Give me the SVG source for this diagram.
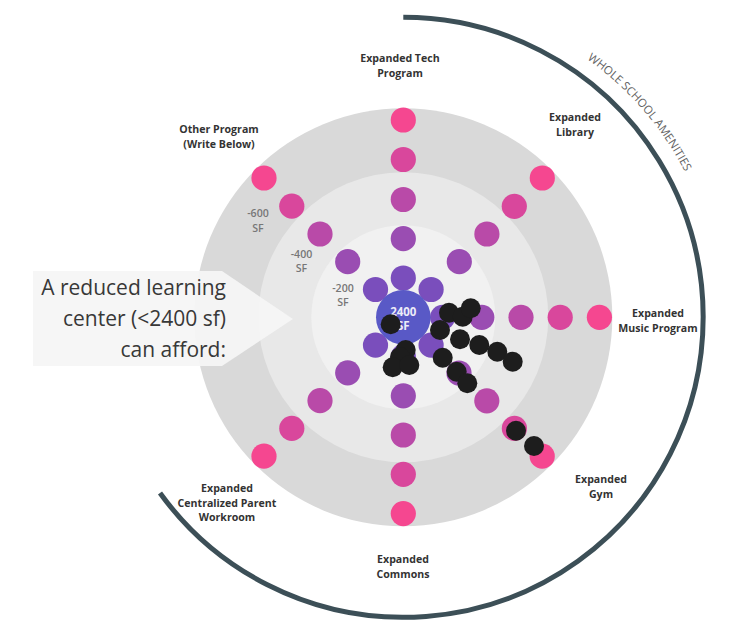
<svg xmlns="http://www.w3.org/2000/svg" width="729" height="623" viewBox="0 0 729 623">
<defs>
<style>
.lbl{font-family:"Open Sans","Noto Sans","Liberation Sans",sans-serif;font-weight:700;font-size:10.6px;fill:#333;text-anchor:middle}
.sf{font-family:"Open Sans","Noto Sans","Liberation Sans",sans-serif;font-weight:600;font-size:10.6px;fill:#777;text-anchor:middle}
.call{font-family:"Open Sans","Noto Sans","Liberation Sans",sans-serif;font-weight:400;font-size:21px;fill:#383838;text-anchor:end}
.arc{font-family:"Open Sans","Noto Sans","Liberation Sans",sans-serif;font-size:11.5px;fill:#626262}
.d1{fill:#7a4ebc}.d2{fill:#9a4db2}.d3{fill:#b94aa8}.d4{fill:#d9479c}.d5{fill:#f54790}
.blk{fill:#1d1d1d}
</style>
<path id="arcText" d="M403.3,0.3 A317,317 0 0 1 720.3,317.3"/>
</defs>
<rect width="729" height="623" fill="#ffffff"/>
<g id="rings">
<circle cx="403.3" cy="317.3" r="209" fill="#d9d9d9"/>
<circle cx="403.3" cy="317.3" r="145" fill="#e8e8e8"/>
<circle cx="403.3" cy="317.3" r="92" fill="#f1f1f1"/>
</g>
<g id="callout">
<polygon points="33,271 222,271 293,319 222,366 33,366" fill="#f5f5f5" opacity="0.93"/>
<text class="call" x="226" y="295">A reduced learning</text>
<text class="call" x="226" y="326">center (&lt;2400 sf)</text>
<text class="call" x="226" y="357">can afford:</text>
</g>
<g id="spoke-n">
<circle class="d1" cx="403.3" cy="278" r="12.6"/>
<circle class="d2" cx="403.3" cy="238.7" r="12.6"/>
<circle class="d3" cx="403.3" cy="199.5" r="12.6"/>
<circle class="d4" cx="403.3" cy="159.5" r="12.6"/>
<circle class="d5" cx="403.3" cy="120" r="12.6"/>
</g>
<g id="spoke-ne">
<circle class="d1" cx="431.1" cy="289.5" r="12.6"/>
<circle class="d2" cx="459.3" cy="261.7" r="12.6"/>
<circle class="d3" cx="486.9" cy="234" r="12.6"/>
<circle class="d4" cx="514.3" cy="206.3" r="12.6"/>
<circle class="d5" cx="542.3" cy="178" r="12.6"/>
</g>
<g id="spoke-e">
<circle class="d1" cx="442.6" cy="317.3" r="12.6"/>
<circle class="d2" cx="481.8" cy="317.3" r="12.6"/>
<circle class="d3" cx="521" cy="317.3" r="12.6"/>
<circle class="d4" cx="560.2" cy="317.3" r="12.6"/>
<circle class="d5" cx="599.4" cy="317.3" r="12.6"/>
</g>
<g id="spoke-se">
<circle class="d1" cx="431.1" cy="345.1" r="12.6"/>
<circle class="d2" cx="459" cy="373" r="12.6"/>
<circle class="d3" cx="486.8" cy="400.8" r="12.6"/>
<circle class="d4" cx="514.4" cy="428.4" r="12.6"/>
<circle class="d5" cx="542.2" cy="456.2" r="12.6"/>
</g>
<g id="spoke-s">
<circle class="d1" cx="403.3" cy="356.6" r="12.6"/>
<circle class="d2" cx="403.3" cy="395.8" r="12.6"/>
<circle class="d3" cx="403.3" cy="435" r="12.6"/>
<circle class="d4" cx="403.3" cy="474.3" r="12.6"/>
<circle class="d5" cx="403.3" cy="513.6" r="12.6"/>
</g>
<g id="spoke-sw">
<circle class="d1" cx="375.5" cy="345.1" r="12.6"/>
<circle class="d2" cx="347.7" cy="372.8" r="12.6"/>
<circle class="d3" cx="320" cy="400.7" r="12.6"/>
<circle class="d4" cx="291.8" cy="428.4" r="12.6"/>
<circle class="d5" cx="264" cy="456.2" r="12.6"/>
</g>
<g id="spoke-nw">
<circle class="d1" cx="375.5" cy="289.5" r="12.6"/>
<circle class="d2" cx="347.7" cy="261.7" r="12.6"/>
<circle class="d3" cx="320" cy="234" r="12.6"/>
<circle class="d4" cx="291.8" cy="206.2" r="12.6"/>
<circle class="d5" cx="264" cy="178" r="12.6"/>
</g>
<g id="center-node">
<circle cx="403.3" cy="317.3" r="27.3" fill="#5959c6"/>
<text x="403.3" y="315.5" font-family="Open Sans, Noto Sans, Liberation Sans, sans-serif" font-weight="700" font-size="11.5" fill="#ececf8" text-anchor="middle">2400</text>
<text x="403.3" y="330" font-family="Open Sans, Noto Sans, Liberation Sans, sans-serif" font-weight="700" font-size="11.5" fill="#ececf8" text-anchor="middle">SF</text>
</g>
<g id="sf-labels">
<text class="sf" x="258" y="217">-600</text><text class="sf" x="258" y="232">SF</text>
<text class="sf" x="301.5" y="258">-400</text><text class="sf" x="301.5" y="272">SF</text>
<text class="sf" x="343" y="292">-200</text><text class="sf" x="343" y="306">SF</text>
</g>
<g id="votes">
<circle class="blk" cx="390.7" cy="324.3" r="10"/>
<circle class="blk" cx="405.7" cy="350" r="10"/>
<circle class="blk" cx="400" cy="357" r="10"/>
<circle class="blk" cx="392.7" cy="367.3" r="10"/>
<circle class="blk" cx="409.3" cy="365" r="10"/>
<circle class="blk" cx="449" cy="312.7" r="10"/>
<circle class="blk" cx="462.7" cy="316.7" r="10"/>
<circle class="blk" cx="470.7" cy="308.3" r="10"/>
<circle class="blk" cx="440" cy="330" r="10"/>
<circle class="blk" cx="460" cy="339.3" r="10"/>
<circle class="blk" cx="479.3" cy="345" r="10"/>
<circle class="blk" cx="497.3" cy="351.7" r="10"/>
<circle class="blk" cx="512.7" cy="361.7" r="10"/>
<circle class="blk" cx="442.7" cy="357.7" r="10"/>
<circle class="blk" cx="456.7" cy="371.7" r="10"/>
<circle class="blk" cx="467.3" cy="383.3" r="10"/>
<circle class="blk" cx="516" cy="430.7" r="10"/>
<circle class="blk" cx="534" cy="446" r="10"/>
</g>
<g id="label-tech"><text class="lbl" x="400" y="62">Expanded Tech</text><text class="lbl" x="400" y="77">Program</text></g>
<g id="label-library"><text class="lbl" x="575" y="121">Expanded</text><text class="lbl" x="575" y="135.5">Library</text></g>
<g id="label-other"><text class="lbl" x="219" y="133">Other Program</text><text class="lbl" x="219" y="147.5">(Write Below)</text></g>
<g id="label-music"><text class="lbl" x="658" y="317">Expanded</text><text class="lbl" x="658" y="331.5">Music Program</text></g>
<g id="label-gym"><text class="lbl" x="601" y="483">Expanded</text><text class="lbl" x="601" y="497.5">Gym</text></g>
<g id="label-parent"><text class="lbl" x="227" y="492">Expanded</text><text class="lbl" x="227" y="506.5">Centralized Parent</text><text class="lbl" x="227" y="521">Workroom</text></g>
<g id="label-commons"><text class="lbl" x="403" y="563">Expanded</text><text class="lbl" x="403" y="577.5">Commons</text></g>
<g id="amenities-arc">
<path d="M403.3,17.3 A300,300 0 1 1 160,493" fill="none" stroke="#3c4f57" stroke-width="5"/>
<text class="arc"><textPath href="#arcText" startOffset="196">WHOLE</textPath></text>
<text class="arc"><textPath href="#arcText" startOffset="239.5">SCHOOL</textPath></text>
<text class="arc"><textPath href="#arcText" startOffset="288.5">AMENITIES</textPath></text>
</g>
</svg>
